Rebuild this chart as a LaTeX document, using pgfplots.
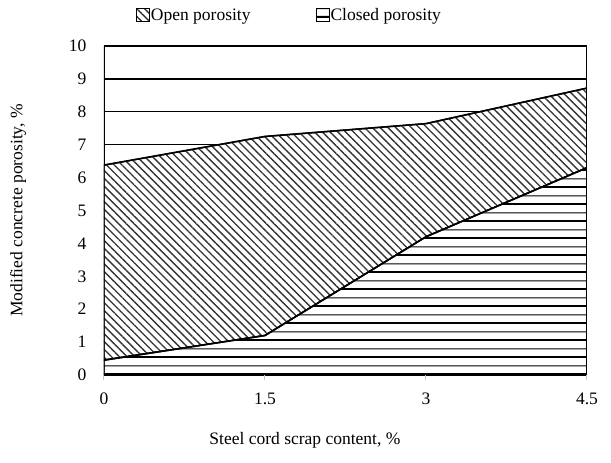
\documentclass[border=0pt]{standalone}
\usepackage{fontspec}
\setmainfont{Liberation Serif}
\usepackage{pgfplots}
\pgfplotsset{compat=1.18}
\usetikzlibrary{patterns.meta}

\pgfdeclarepattern{
  name=hlinesalt,
  type=uncolored,
  bottom left={\pgfpoint{0pt}{0pt}},
  top right={\pgfpoint{10pt}{17pt}},
  tile size={\pgfpoint{10pt}{17pt}},
  code={
    \pgfsetlinewidth{1.9pt}
    \pgfpathmoveto{\pgfpoint{-1pt}{4.25pt}}\pgfpathlineto{\pgfpoint{11pt}{4.25pt}}\pgfusepath{stroke}
    \pgfsetlinewidth{1.1pt}
    \pgfpathmoveto{\pgfpoint{-1pt}{12.75pt}}\pgfpathlineto{\pgfpoint{11pt}{12.75pt}}\pgfusepath{stroke}
  }
}

\begin{document}
\begin{tikzpicture}
\path[use as bounding box] (0,0) rectangle (611pt,463pt);
\begin{axis}[
  at={(104pt,88pt)}, anchor=south west,
  width=483pt, height=329pt, scale only axis,
  xmin=0, xmax=4.5, ymin=0, ymax=10,
  xtick={0,1.5,3,4.5}, ytick={0,1,...,10},
  xticklabels={0,1.5,3,4.5},
  xtick pos=bottom, ytick pos=left,
  axis line style={draw=none},
  tick align=outside,
  major tick length=5pt,
  xtick style={draw=gray!45, line width=1pt},
  ytick style={draw=none},
  ymajorgrids, major grid style={black, line width=1.3pt},
  stack plots=y,
  /pgf/number format/assume math mode=true,
  tick label style={font=\fontsize{17.5}{20}\selectfont},
  xticklabel style={yshift=-9pt},
  yticklabel style={xshift=-9pt},
  label style={font=\fontsize{17.5}{20}\selectfont},
  xlabel={Steel cord scrap content, \%},
  ylabel={Modified concrete porosity, \%},
  xlabel style={at={(0.416,-0.198)}, anchor=center},
  ylabel style={at={(-0.178,0.5)}, anchor=center},
  legend style={draw=none, fill=none, at={(0.383,1.094)}, anchor=center,
    legend columns=2, font=\fontsize{17.5}{20}\selectfont,
    /tikz/every even column/.append style={column sep=64pt},
    nodes={inner sep=1pt}},
  reverse legend,
  legend image code/.code={\draw[#1, line width=0.9pt] (0pt,-6.5pt) rectangle (13pt,6.5pt);},
]
\addplot[draw=black, line width=1.5pt, fill=white,
  postaction={pattern=hlinesalt, pattern color=black}]
  coordinates {(0,0.45) (1.5,1.2) (3,4.2) (4.5,6.3)} \closedcycle;
\addlegendentry{Closed porosity}
\addplot[draw=black, line width=1.5pt, fill=white,
  postaction={pattern={Lines[angle=-45, distance=5.5pt, line width=1.35pt]}, pattern color=black!80}]
  coordinates {(0,5.93) (1.5,6.05) (3,3.44) (4.5,2.42)} \closedcycle;
\addlegendentry{Open porosity}
\draw[black, line width=1.5pt] (rel axis cs:0,0) -- (rel axis cs:0,1);
\draw[black, line width=1.5pt] (rel axis cs:1,0) -- (rel axis cs:1,1);
\draw[gray!45, line width=1.5pt] (rel axis cs:0,0) -- (rel axis cs:1,0);
\end{axis}
\end{tikzpicture}
\end{document}
